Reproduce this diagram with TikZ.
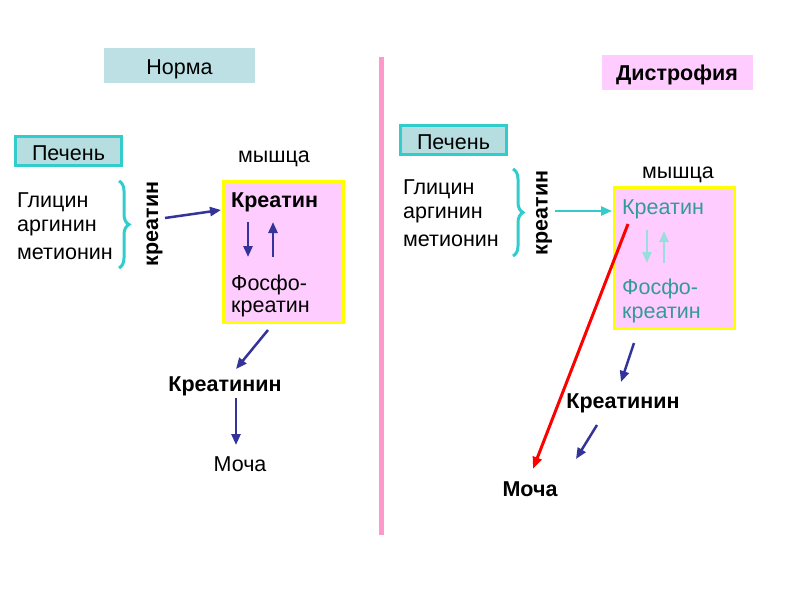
\documentclass[tikz,border=0pt]{standalone}
\usepackage{fontspec}
\setmainfont{Liberation Sans}
\usetikzlibrary{arrows.meta,decorations.pathreplacing}
\definecolor{normafill}{HTML}{BCE0E4}
\definecolor{pinkfill}{HTML}{FFCCFF}
\definecolor{tealc}{HTML}{33CCCC}
\definecolor{pechenfill}{HTML}{B6DEE0}
\definecolor{navy}{HTML}{333399}
\definecolor{tealtext}{HTML}{339999}
\definecolor{paleteal}{HTML}{99DDDD}
\definecolor{sepline}{HTML}{FF99CC}
\definecolor{boxyellow}{HTML}{FFFF00}
\tikzset{
  txt/.style={inner sep=0pt, yshift=-2pt, font=\fontsize{21.5}{26}\selectfont},
  btxt/.style={txt, font=\fontsize{21.5}{26}\selectfont\bfseries},
  titlebox/.style={minimum width=151pt, minimum height=35pt, inner sep=0pt, text height=18pt, text depth=0pt, font=\fontsize{21.5}{26}\selectfont},
  pechen/.style={draw=tealc, line width=3pt, fill=pechenfill, minimum width=106pt, minimum height=29pt, inner sep=0pt, text height=18pt, text depth=0pt, font=\fontsize{21.5}{26}\selectfont},
  muscle/.style={draw=boxyellow, line width=3pt, fill=pinkfill, minimum width=120pt, minimum height=141pt, inner sep=0pt},
  navyarrow/.style={draw=navy, line width=2.5pt, -{Triangle[length=11pt,width=9pt]}},
  tealarrow/.style={draw=tealc, line width=2.5pt, -{Triangle[length=11pt,width=9pt]}},
  palearrow/.style={draw=paleteal, line width=2.5pt, -{Triangle[length=11pt,width=9pt]}},
  redarrow/.style={draw=red, line width=3pt, -{Triangle[length=12pt,width=9pt]}},
  bracestyle/.style={draw=tealc, line width=3pt, decorate, decoration={brace, amplitude=10pt, aspect=0.5}},
}
\begin{document}
\begin{tikzpicture}[x=1pt,y=-1pt]
\useasboundingbox (0,0) rectangle (800,600);
\fill[white] (0,0) rectangle (800,600);
% separator
\draw[sepline, line width=5pt] (381,57) coordinate (sepT) -- (381,535) coordinate (sepB);
% titles
\node[titlebox, fill=normafill] (norma) at (179.5,65.5) {Норма};
\node[titlebox, fill=pinkfill, font=\fontsize{21.5}{26}\selectfont\bfseries, text height=17pt] (dist) at (677,72) {Дистрофия};

% ---------- left (norm) ----------
\node[pechen] (pech1) at (68.5,151) {Печень};
\node[txt, anchor=west] (gl1) at (17,200) {Глицин};
\node[txt, anchor=west] (ar1) at (17,226) {аргинин};
\node[txt, anchor=west] (me1) at (17,252) {метионин};
\draw[bracestyle] (119,181) -- (119,268);
\node[btxt, rotate=90, yshift=2pt] (kr1) at (156.5,222) {креатин};
\node[txt] (my1) at (274,157) {мышца};
\node[muscle] (box1) at (283,251.5) {};
\node[btxt, anchor=west] (k1) at (231,200) {Креатин};
\node[txt, anchor=west] (f1) at (231,283) {Фосфо-};
\node[txt, anchor=west] (fk1) at (231,307) {креатин};
\coordinate (a1s) at (165,218);
\coordinate (a1e) at (221,210);
\draw[navyarrow] (a1s) -- (a1e);
\coordinate (d1s) at (248,222); \coordinate (d1e) at (248,257);
\draw[navyarrow] (d1s) -- (d1e);
\coordinate (u1s) at (273,257); \coordinate (u1e) at (273,222);
\draw[navyarrow] (u1s) -- (u1e);
\node[btxt] (kn1) at (225,384) {Креатинин};
\node[txt] (mo1) at (240,462) {Моча};
\coordinate (c1s) at (268,330); \coordinate (c1e) at (236,369);
\draw[navyarrow] (c1s) -- (c1e);
\draw[navyarrow] (236,398) coordinate (m1s) -- (236,445) coordinate (m1e);

% ---------- right (dystrophy) ----------
\node[pechen] (pech2) at (453.5,140) {Печень};
\node[txt, anchor=west] (gl2) at (403,187) {Глицин};
\node[txt, anchor=west] (ar2) at (403,213) {аргинин};
\node[txt, anchor=west] (me2) at (403,239) {метионин};
\draw[bracestyle] (513,169) -- (513,256);
\node[btxt, rotate=90, yshift=2pt] (kr2) at (546,211) {креатин};
\node[txt] (my2) at (678,173) {мышца};
\node[muscle] (box2) at (674,258) {};
\node[txt, anchor=west, text=tealtext] (k2) at (622,207) {Креатин};
\node[txt, anchor=west, text=tealtext] (f2) at (622,287) {Фосфо-};
\node[txt, anchor=west, text=tealtext] (fk2) at (622,313) {креатин};
\coordinate (a2s) at (555,211);
\coordinate (a2e) at (612,211);
\draw[tealarrow] (a2s) -- (a2e);
\draw[palearrow] (647,230) coordinate (d2s) -- (647,263) coordinate (d2e);
\draw[palearrow] (664,263) coordinate (u2s) -- (664,231) coordinate (u2e);
\node[btxt] (kn2) at (623,401) {Креатинин};
\node[btxt] (mo2) at (530,487) {Моча};
\draw[redarrow] (628,224) coordinate (r2s) -- (533,469) coordinate (r2e);
\draw[navyarrow] (634,343) coordinate (c2s) -- (621,382) coordinate (c2e);
\draw[navyarrow] (597,425) coordinate (m2s) -- (576,459) coordinate (m2e);
\end{tikzpicture}
\end{document}
